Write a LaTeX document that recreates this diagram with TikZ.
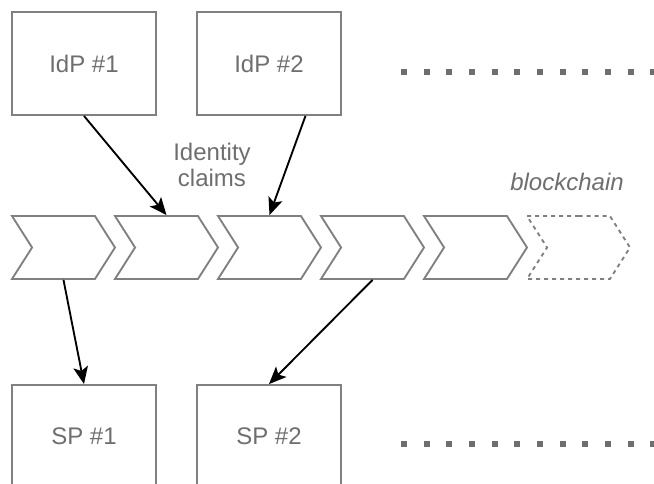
\documentclass[tikz,border=0pt]{standalone}
\usepackage{fontspec}
\setmainfont{Liberation Sans}
\usetikzlibrary{positioning,shapes.symbols,arrows.meta,calc}
\definecolor{linegray}{HTML}{808080}
\definecolor{textgray}{HTML}{6E6E6E}

\begin{document}
\begin{tikzpicture}[x=0.75pt, y=-0.75pt,
	font=\fontsize{18}{19.5}\selectfont, text=textgray,
	party/.style={rectangle, draw=linegray, line width=1.4pt, minimum width=108pt, minimum height=77.25pt, inner sep=0pt},
	block/.style={signal, signal from=west, signal to=east, signal pointer angle=115, draw=linegray, line width=1.4pt, minimum width=77.25pt, minimum height=47.25pt, inner sep=0pt},
	claim/.style={-{Stealth[length=13pt, width=11pt, inset=3pt]}, black, line width=1.4pt},
	more/.style={textgray, line width=4.5pt, dash pattern=on 4.5pt off 12.5pt}]
	\useasboundingbox (0,0) rectangle (654,483);

	\node [party] (idp1) at (84,63.5) {IdP \#1};
	\node [party] (idp2) at (269,63.5) {IdP \#2};
	\node [party] (sp1) at (84,436.5) {SP \#1};
	\node [party] (sp2) at (269,436.5) {SP \#2};

	\node [block] (c1) at (63.5,247.5) {};
	\node [block] (c2) at (166.5,247.5) {};
	\node [block] (c3) at (269.5,247.5) {};
	\node [block] (c4) at (372.5,247.5) {};
	\node [block] (c5) at (475.5,247.5) {};
	\node [block, dashed] (c6) at (578.5,247.5) {};

	\node [align=center] (claims) at (212,165) {Identity\\claims};
	\node [font=\fontsize{18}{19.5}\selectfont\itshape] (chain) at (567,182) {blockchain};

	\draw [more] (401,72) -- (660,72);
	\draw [more] (401,444) -- (660,444);

	\path[claim] (idp1.south) edge (c2.north);
	\path[claim] ($(idp2.south west)!0.75!(idp2.south east)$) edge (c3.north);
	\path[claim] (c1.south) edge (sp1.north);
	\path[claim] (c4.south) edge (sp2.north);
\end{tikzpicture}
\end{document}
